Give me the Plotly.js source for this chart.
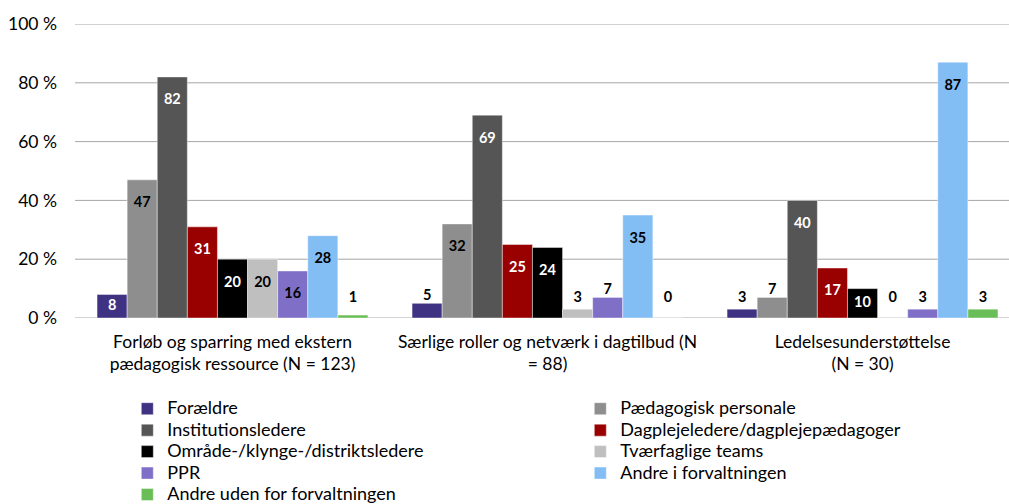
<!DOCTYPE html>
<html>
<head>
<meta charset="utf-8">
<script src="https://cdn.plot.ly/plotly-3.0.1.min.js"></script>
<style>html,body{margin:0;padding:0;background:#fff;}#chart{width:1009px;height:504px;}</style>
</head>
<body>
<div id="chart"></div>
<script>
const categories = [
  "Forløb og sparring med ekstern<br>pædagogisk ressource (N = 123)",
  "Særlige roller og netværk i dagtilbud (N<br>= 88)",
  "Ledelsesunderstøttelse<br>(N = 30)"
];
const seriesNames = [
  "Forældre", "Pædagogisk personale", "Institutionsledere",
  "Dagplejeledere/dagplejepædagoger", "Område-/klynge-/distriktsledere",
  "Tværfaglige teams", "PPR", "Andre i forvaltningen", "Andre uden for forvaltningen"
];
const foraeldre = [8, 5, 3];
const paedagogisk = [47, 32, 7];
const institutionsledere = [82, 69, 40];
const dagpleje = [31, 25, 17];
const omraade = [20, 24, 10];
const tvaerfaglige = [20, 3, 0];
const ppr = [16, 7, 3];
const andreI = [28, 35, 87];
const andreUden = [1, 0, 3];
const yTicks = [0, 20, 40, 60, 80, 100];
const yTickText = ["0 %", "20 %", "40 %", "60 %", "80 %", "100 %"];

const seriesValues = [foraeldre, paedagogisk, institutionsledere, dagpleje, omraade, tvaerfaglige, ppr, andreI, andreUden];
const colors = ["#3F3282", "#8E8E8E", "#555555", "#990000", "#000000", "#BFBFBF", "#7F6FC6", "#82BDF4", "#69BE57"];
const insideTextColors = ["#fff", "#000", "#fff", "#fff", "#fff", "#000", "#000", "#000", "#000"];

const FONT = "Lato, sans-serif";
const traces = [];
seriesValues.forEach((vals, i) => {
  traces.push({
    type: "bar",
    name: '<span style="font-size:18px">' + seriesNames[i] + '</span>',
    x: categories,
    y: vals,
    marker: {color: colors[i], line: {color: "rgba(255,255,255,0.55)", width: 0.8}},
    hoverinfo: "skip"
  });
});
// data labels (Excel-like: inside end, centred when short, above when tiny)
seriesValues.forEach((vals, i) => {
  const ys = vals.map(v => v >= 14 ? v - 8.1 : (v >= 8 ? v / 2 : Math.max(v + 2.5, 6.8)));
  const tc = vals.map(v => v >= 8 ? insideTextColors[i] : "#000");
  traces.push({
    type: "scatter",
    mode: "text",
    x: categories,
    y: ys,
    text: vals.map(v => String(v)),
    textposition: "middle center",
    textfont: {family: FONT, size: 14.5, color: tc, weight: "bold"},
    showlegend: false,
    hoverinfo: "skip",
    cliponaxis: false
  });
});

// horizontal gridlines at the y tick values
const gridShapes = yTicks.map(t => ({
  type: "line", xref: "paper", yref: "y", x0: 0, x1: 1, y0: t, y1: t,
  line: {color: "#A6A6A6", width: 1}, layer: "below"
}));

const layout = {
  width: 1009, height: 504,
  margin: {l: 75, r: 0, t: 24, b: 186, autoexpand: false},
  paper_bgcolor: "#fff", plot_bgcolor: "#fff",
  font: {family: FONT, size: 17.5, color: "#000"},
  barmode: "group",
  scattermode: "group",
  bargap: 0.14,
  bargroupgap: 0,
  scattergap: 0.14,
  showlegend: true,
  shapes: gridShapes,
  xaxis: {
    type: "category",
    range: [-0.5, 2.465],
    showgrid: false, zeroline: false, showline: false,
    ticks: "", ticklabelstandoff: 11,
    tickfont: {family: FONT, size: 17.5, color: "#000"}
  },
  yaxis: {
    type: "linear",
    range: [0, 100],
    tickmode: "array", tickvals: yTicks, ticktext: yTickText,
    showgrid: false, zeroline: false, showline: false,
    ticklabelstandoff: 17,
    tickfont: {family: FONT, size: 17.5, color: "#000"}
  },
  legend: {
    orientation: "h",
    x: 0.056, xanchor: "left",
    y: -0.255, yanchor: "top",
    entrywidth: 408, entrywidthmode: "pixels",
    itemwidth: 30,
    tracegroupgap: 0,
    font: {family: FONT, size: 14.2, color: "#000"},
    traceorder: "normal",
    bgcolor: "rgba(0,0,0,0)"
  }
};

Plotly.newPlot("chart", traces, layout, {displayModeBar: false, staticPlot: true});
</script>
</body>
</html>
